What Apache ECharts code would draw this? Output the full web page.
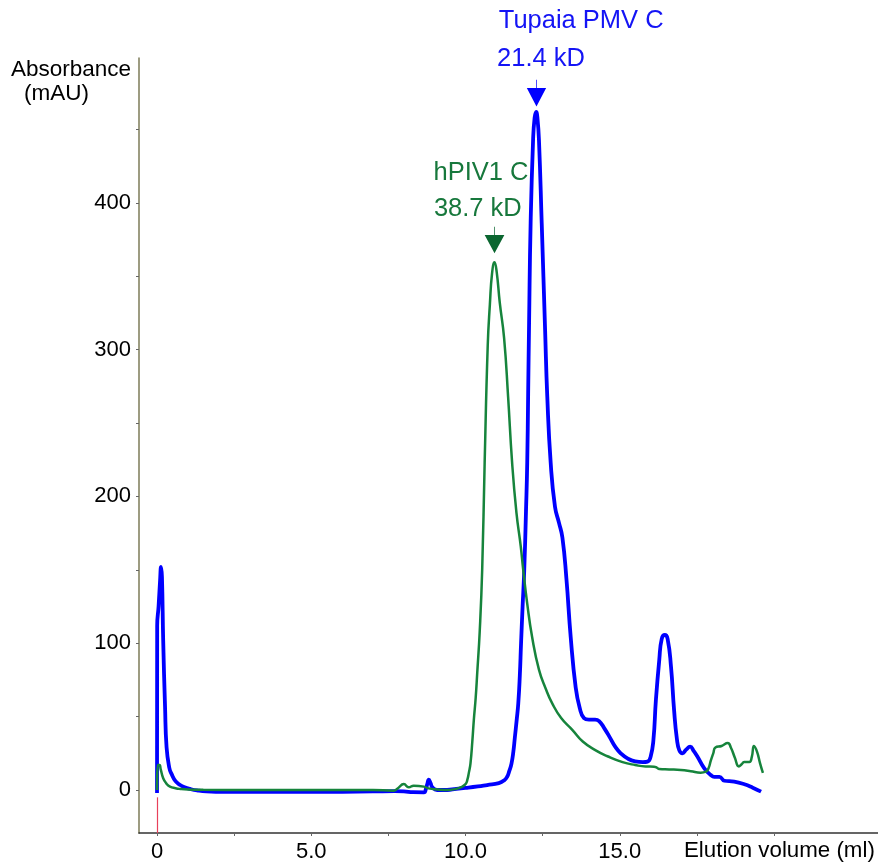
<!DOCTYPE html>
<html>
<head>
<meta charset="utf-8">
<script src="https://cdn.jsdelivr.net/npm/echarts@6/dist/echarts.min.js"></script>
<style>
html,body{margin:0;padding:0;background:#fff;}
#chart{width:878px;height:864px;}
</style>
</head>
<body>
<div id="chart"></div>
<script>
// ---- data ----
const blueX = [0.00,0.005,0.05,0.10,0.13,0.16,0.20,0.26,0.31,0.40,0.47,0.60,0.75,0.90,1.07,1.3,1.6,2.0,3.0,4.0,5.0,6.0,7.0,7.7,8.0,8.3,8.65,8.72,8.76,8.81,8.87,8.92,9.08,9.4,9.7,10.0,10.4,10.7,11.08,11.25,11.35,11.42,11.49,11.55,11.60,11.66,11.71,11.76,11.80,11.85,11.90,11.96,12.00,12.03,12.06,12.11,12.19,12.24,12.29,12.33,12.38,12.47,12.58,12.65,12.76,12.90,13.03,13.14,13.27,13.41,13.57,13.70,13.84,14.0,14.2,14.33,14.5,14.7,14.85,15.03,15.25,15.5,15.75,15.9,16.0,16.09,16.17,16.28,16.36,16.46,16.55,16.66,16.76,16.85,16.93,17.03,17.15,17.28,17.40,17.52,17.74,17.95,18.06,18.23,18.39,18.71,19.04,19.31,19.58];
const blueY = [-2,112,125,143,152,145,102,57,29,15,11,6,3.4,1.8,0.7,-0.3,-1,-1.2,-1.3,-1.3,-1.3,-1.2,-1.0,-0.8,-0.9,-1.5,-1.6,1,4,7,4.5,2,0,0,0.8,1.4,2.4,3.4,4.7,6.5,9,13,18,26,36,48,59,78,100,125,148,190,223,270,318,386,443,458,462,458,443,386,313,268,223,193,182,172,144,104,70,56,49,48,48,47,42,35,29.5,25,21.5,19.5,19,19.3,22.7,34,61,88.6,103,105.6,103,84,54.5,35,27,25,27.5,29.5,26.5,22.7,14.8,10.2,9,9,6.3,5.7,3.9,1.6,-1.1];

const greenX = [0.0,0.02,0.08,0.12,0.2,0.3,0.42,0.6,0.75,1.0,1.5,3,5,7,7.67,7.8,8.0,8.16,8.32,8.65,8.8,9.1,9.4,9.65,9.84,10.0,10.06,10.11,10.16,10.22,10.27,10.33,10.38,10.46,10.54,10.62,10.72,10.79,10.86,10.94,11.01,11.11,11.25,11.38,11.51,11.65,11.79,11.87,12.0,12.16,12.38,12.6,12.81,13.1,13.46,13.8,14.22,14.6,15.09,15.5,15.84,16.11,16.2,16.28,16.6,16.98,17.3,17.62,17.79,17.88,17.95,18.03,18.1,18.3,18.5,18.6,18.73,18.86,18.95,19.03,19.2,19.28,19.35,19.45,19.55,19.64];
const greenY = [0,17,17,14,8,4.5,2.3,1.2,0.7,0.3,0.1,0,0,0,-0.5,1,4,1.8,2.9,2.3,1.1,0.4,0,0.6,1.8,4,7,12,18,33,48,63,80,108,150,223,303,331,352,359.5,353,332,308,268,223,189,166,150,127,104,82,69,59,49,41,33,27,23,19,17,16,15.9,15.2,14.3,14,13.6,12.8,11.8,12.5,15,20,25,29,30,32,29,22,16,17.5,19,19,22.5,30,26,18,11.6];

const xTickValues = [0,2.5,5,7.5,10,12.5,15,17.5,20];
const xLabelValues = [0,5,10,15];
const yTickValues = [0,50,100,150,200,250,300,350,400,450];
const yLabelValues = [0,100,200,300,400];

const peakNames = ['Tupaia PMV C','hPIV1 C'];
const peakMW = ['21.4 kD','38.7 kD'];
const peakX = [12.30, 10.94];
const peakY = [462, 359.5];

// ---- chart ----
const FONT = '"Liberation Sans", Arial, Helvetica, sans-serif';
const BLUE = '#0000ff', BLUE_TXT = '#1414f5';
const GREEN = '#16843c', GREEN_DARK = '#0b6630', GREEN_TXT = '#17783c';
const arrowPath = 'path://M9.3,0 L10,0 L10,8.3 L19.3,8.3 L9.65,26.7 L0,8.3 L9.3,8.3 Z';

const pairs = (xs, ys) => xs.map((x, i) => [x, ys[i]]);

function textPoint(x, y, text, color, off) {
  return {
    coord: [x, y], symbol: 'circle', symbolSize: 1,
    itemStyle: {color: 'rgba(0,0,0,0)'},
    label: {show: true, position: 'inside', formatter: text, color: color,
      fontSize: 25.5, fontFamily: FONT, align: 'center', verticalAlign: 'middle', offset: off}
  };
}

const chart = echarts.init(document.getElementById('chart'), null, {renderer: 'canvas'});
chart.setOption({
  animation: false,
  backgroundColor: '#ffffff',
  grid: {left: 139, right: 0, top: 58, bottom: 31, containLabel: false},
  xAxis: {
    type: 'value', min: -0.584, max: 23.37,
    axisLine: {show: true, onZero: false, lineStyle: {color: '#333333', width: 1.5}},
    axisTick: {show: true, length: 3, customValues: xTickValues, lineStyle: {color: '#666'}},
    axisLabel: {show: true, customValues: xLabelValues, margin: 8, color: '#000', fontSize: 22, fontFamily: FONT,
      formatter: v => v === 0 ? '0' : v.toFixed(1)},
    splitLine: {show: false}
  },
  yAxis: {
    type: 'value', min: -29.3, max: 498.7,
    axisLine: {show: true, onZero: false, lineStyle: {color: '#8c8b6c', width: 1.7}},
    axisTick: {show: true, length: 3, customValues: yTickValues, lineStyle: {color: '#666'}},
    axisLabel: {show: true, customValues: yLabelValues, margin: 8, color: '#000', fontSize: 22, fontFamily: FONT},
    splitLine: {show: false}
  },
  graphic: [
    {type: 'text', left: 11, top: 58, style: {text: 'Absorbance', fontSize: 22.5, fontFamily: FONT, fill: '#000'}},
    {type: 'text', left: 24, top: 82, style: {text: '(mAU)', fontSize: 22.5, fontFamily: FONT, fill: '#000'}},
    {type: 'text', left: 684, top: 840, style: {text: 'Elution volume (ml)', fontSize: 22.3, fontFamily: FONT, fill: '#000'}}
  ],
  series: [
    {
      name: 'Tupaia PMV C', type: 'line', data: pairs(blueX, blueY),
      showSymbol: false, smooth: 0.5, clip: false,
      lineStyle: {color: BLUE, width: 3.8}, z: 2,
      markLine: {
        silent: true, symbol: ['none', 'none'], label: {show: false},
        lineStyle: {color: '#e8405a', width: 1.2, type: 'solid', opacity: 1},
        data: [[{coord: [0, -5]}, {coord: [0, -29.3]}]]
      },
      markPoint: {
        silent: true,
        data: [
          {coord: [peakX[0], peakY[0]], symbol: arrowPath, symbolSize: [19.3, 26.7], symbolOffset: [0, -18.7],
            itemStyle: {color: BLUE}, label: {show: false}},
          textPoint(peakX[0], peakY[0], peakMW[0], BLUE_TXT, [4.5, -52.5]),
          textPoint(peakX[0], peakY[0], peakNames[0], BLUE_TXT, [44.7, -91])
        ]
      }
    },
    {
      name: 'hPIV1 C', type: 'line', data: pairs(greenX, greenY),
      showSymbol: false, smooth: 0.5, clip: false,
      lineStyle: {color: GREEN, width: 2.5}, z: 3,
      markPoint: {
        silent: true,
        data: [
          {coord: [peakX[1], peakY[1]], symbol: arrowPath, symbolSize: [19.7, 26.7], symbolOffset: [0, -22.3],
            itemStyle: {color: GREEN_DARK}, label: {show: false}},
          textPoint(peakX[1], peakY[1], peakMW[1], GREEN_TXT, [-16.7, -53.8]),
          textPoint(peakX[1], peakY[1], peakNames[1], GREEN_TXT, [-13.5, -89.8])
        ]
      }
    }
  ]
});
</script>
</body>
</html>
